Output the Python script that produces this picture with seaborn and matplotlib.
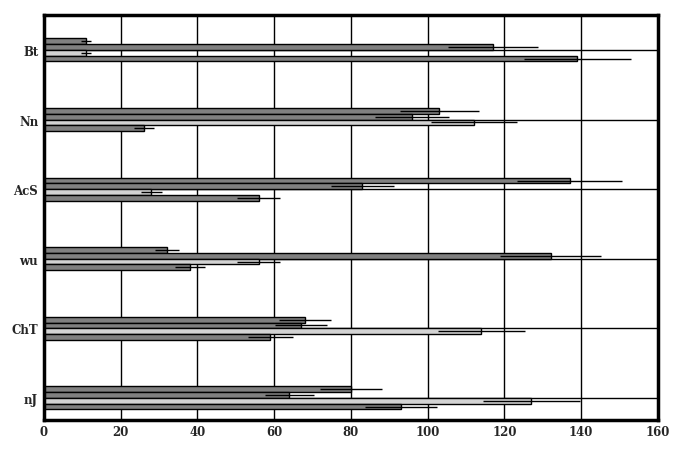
import pandas as pd
import numpy as np
import seaborn as sns
import matplotlib.pyplot as plt

# values
categories = ['Bt', 'Nn', 'AcS', 'wu', 'ChT', 'nJ']
series = ['s1', 's2', 's3', 's4']
values = {
    's1': [11, 103, 137, 32, 68, 80],
    's2': [117, 96, 83, 132, 67, 64],
    's3': [11, 112, 28, 56, 114, 127],
    's4': [139, 26, 56, 38, 59, 93],
}
errors = {
    's1': [1.2, 10.3, 13.7, 3.1, 6.8, 8.1],
    's2': [11.7, 9.6, 8.3, 13.2, 6.7, 6.4],
    's3': [1.2, 11.2, 2.7, 5.6, 11.4, 12.6],
    's4': [14.0, 2.6, 5.6, 3.9, 5.9, 9.4],
}
colors = ['#808080', '#808080', '#d3d3d3', '#808080']

rows = []
for s in series:
    for c, v in zip(categories, values[s]):
        rows.append({'cat': c, 'series': s, 'value': v})
df = pd.DataFrame(rows)

sns.set_style('white')
plt.rcParams['font.family'] = ['DejaVu Serif']

fig, ax = plt.subplots(figsize=(6.84, 4.56), dpi=100)
fig.subplots_adjust(left=0.064, right=0.962, top=0.965, bottom=0.077)

sns.barplot(data=df, y='cat', x='value', hue='series', order=categories,
            hue_order=series, palette=colors, orient='h', width=0.33,
            errorbar=None, edgecolor='black', linewidth=1, saturation=1,
            legend=False, ax=ax)

# error bars, no caps
for s, cont in zip(series, ax.containers):
    for bar, err in zip(cont, errors[s]):
        y = bar.get_y() + bar.get_height() / 2
        ax.errorbar(bar.get_width(), y, xerr=err, fmt='none',
                    ecolor='black', elinewidth=1, capsize=0, zorder=3)

ax.set_xlim(0, 160)
ax.set_xticks(np.arange(0, 161, 20))
ax.set_ylim(5.316, -0.503)
ax.set_axisbelow(True)
ax.grid(True, color='black', linewidth=1)
ax.set_xlabel('')
ax.set_ylabel('')
ax.tick_params(length=0, labelsize=8.5, pad=4)
for lab in ax.get_xticklabels() + ax.get_yticklabels():
    lab.set_fontweight('bold')
for sp in ax.spines.values():
    sp.set_visible(True)
    sp.set_color('black')
    sp.set_linewidth(2.5)

plt.savefig('out.png', dpi=100)
plt.close()
